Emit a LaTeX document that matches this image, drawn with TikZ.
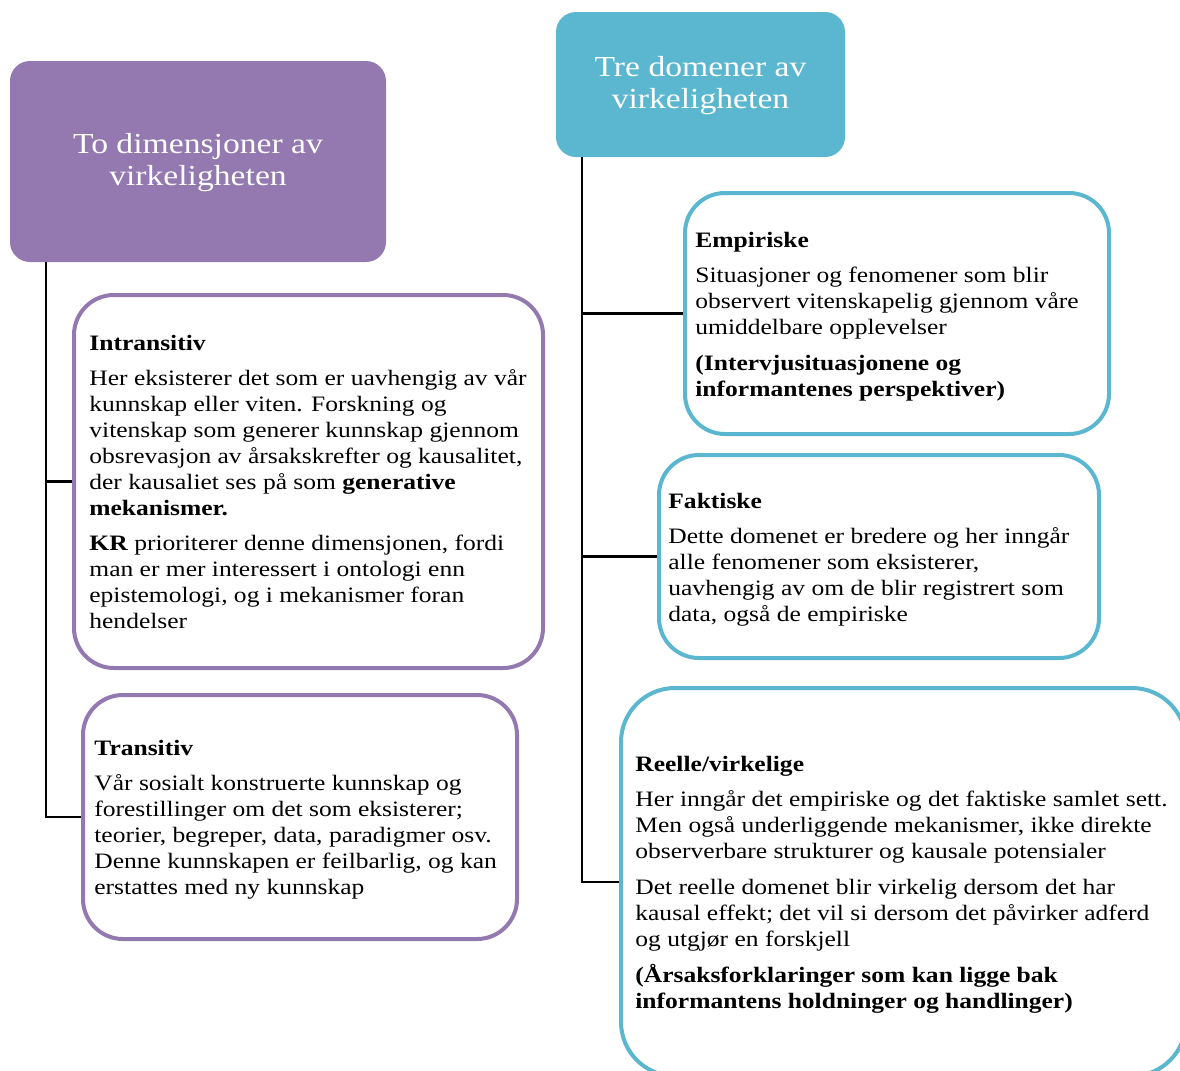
\documentclass[tikz,border=0pt]{standalone}
\usepackage{fontspec}
\setmainfont[FakeStretch=1.16]{Liberation Serif}
\usepackage{tikz}

\definecolor{dimpurple}{RGB}{147,121,176}
\definecolor{domblue}{RGB}{91,183,208}

\begin{document}
\begin{tikzpicture}[x=0.5pt,y=-0.5pt,
  head/.style={rounded corners=10pt,text=white,align=center,inner sep=0pt,font=\fontsize{14.5}{16}\selectfont},
  dimbox/.style={draw=dimpurple,line width=2pt,rounded corners=20pt,inner sep=0pt},
  dombox/.style={draw=domblue,line width=2pt,rounded corners=20pt,inner sep=0pt},
  boxtext/.style={anchor=west,align=left,inner sep=0pt,font=\fontsize{11}{13}\selectfont},
  link/.style={black,line width=1.2pt}]
\useasboundingbox (0,0) rectangle (1180,1071);
\clip (0,0) rectangle (1180,1071);

\node[head,fill=dimpurple,minimum width=188pt,minimum height=100.5pt,text depth=2pt] (todim) at (198,161.5) {To dimensjoner av\\virkeligheten};
\node[head,fill=domblue,minimum width=144.5pt,minimum height=72.5pt,text depth=2pt] (tredom) at (700.5,84.5) {Tre domener av\\virkeligheten};

\node[dimbox,minimum width=234.5pt,minimum height=186.5pt] (intrans) at (308.5,481.5) {};
\node[dimbox,minimum width=217pt,minimum height=122pt] (trans) at (300,817) {};
\node[dombox,minimum width=212pt,minimum height=120.5pt] (emp) at (897,313.5) {};
\node[dombox,minimum width=220pt,minimum height=101.5pt] (fakt) at (879,556.5) {};
\node[dombox,rounded corners=27pt,minimum width=282.5pt,minimum height=194pt] (reell) at (903.5,882) {};

\node[boxtext] (intranstxt) at (89,481.5) {\textbf{Intransitiv}\\[4.5pt]
Her eksisterer det som er uavhengig av vår\\kunnskap eller viten. Forskning og\\vitenskap som generer kunnskap gjennom\\obsrevasjon av årsakskrefter og kausalitet,\\der kausaliet ses på som \textbf{generative}\\\textbf{mekanismer.}\\[4.5pt]
\textbf{KR} prioriterer denne dimensjonen, fordi\\man er mer interessert i ontologi enn\\epistemologi, og i mekanismer foran\\hendelser};
\node[boxtext] (transtxt) at (94,820) {\textbf{Transitiv}\\[4.5pt]
Vår sosialt konstruerte kunnskap og\\forestillinger om det som eksisterer;\\teorier, begreper, data, paradigmer osv.\\Denne kunnskapen er feilbarlig, og kan\\erstattes med ny kunnskap};
\node[boxtext] (emptxt) at (695,316.5) {\textbf{Empiriske}\\[4.5pt]
Situasjoner og fenomener som blir\\observert vitenskapelig gjennom våre\\umiddelbare opplevelser\\[5pt]
\textbf{(Intervjusituasjonene og}\\\textbf{informantenes perspektiver)}};
\node[boxtext] (fakttxt) at (668,559.5) {\textbf{Faktiske}\\[4.5pt]
Dette domenet er bredere og her inngår\\alle fenomener som eksisterer,\\uavhengig av om de blir registrert som\\data, også de empiriske};
\node[boxtext] (reelltxt) at (635,885) {\textbf{Reelle/virkelige}\\[4.5pt]
Her inngår det empiriske og det faktiske samlet sett.\\Men også underliggende mekanismer, ikke direkte\\observerbare strukturer og kausale potensialer\\[5pt]
Det reelle domenet blir virkelig dersom det har\\kausal effekt; det vil si dersom det påvirker adferd\\og utgjør en forskjell\\[5pt]
\textbf{(Årsaksforklaringer som kan ligge bak}\\\textbf{informantens holdninger og handlinger)}};

\coordinate (ltop) at (46,262);
\coordinate (rtop) at (582,157);
\draw[link] (ltop) |- (trans.west);
\draw[link] (ltop |- intrans.west) -- (intrans.west);
\draw[link] (rtop) |- (reell.west);
\draw[link] (rtop |- emp.west) -- (emp.west);
\draw[link] (rtop |- fakt.west) -- (fakt.west);
\end{tikzpicture}
\end{document}
